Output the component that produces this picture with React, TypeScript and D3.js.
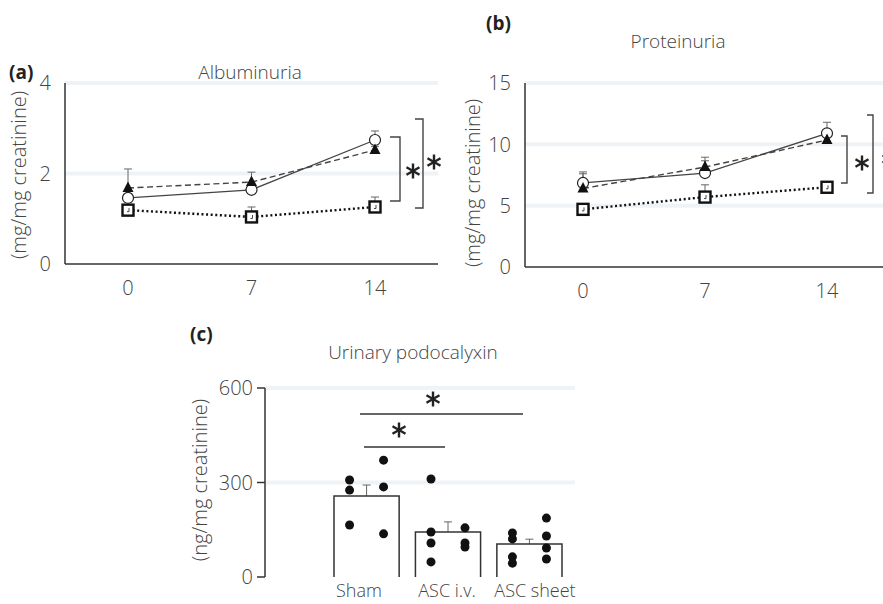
import React from "react";
import * as d3 from "d3";

// time points (days)
const days = [0, 7, 14];

// albuminuria (mg/mg creatinine)
const albCircle = [1.46, 1.64, 2.74];
const albCircleErr = [0.08, 0.08, 0.2];
const albTriangle = [1.68, 1.81, 2.52];
const albTriangleErr = [0.42, 0.22, 0.08];
const albSquare = [1.19, 1.04, 1.26];
const albSquareErr = [0.05, 0.22, 0.22];

// proteinuria (mg/mg creatinine)
const proCircle = [6.85, 7.66, 10.9];
const proCircleErr = [0.9, 1.0, 0.9];
const proTriangle = [6.4, 8.15, 10.35];
const proTriangleErr = [1.2, 0.8, 0.2];
const proSquare = [4.7, 5.7, 6.5];
const proSquareErr = [0.1, 1.0, 0.1];

// urinary podocalyxin (ng/mg creatinine)
const groups = ["Sham", "ASC i.v.", "ASC sheet"];
const podoMean = [257, 143, 105];
const podoErr = [35, 32, 15];
const podoDotsLeft = [
  [308, 276, 165],
  [311, 143, 108, 48],
  [140, 121, 64, 44],
];
const podoDotsRight = [
  [371, 286, 137],
  [156, 108, 95],
  [187, 130, 92, 57],
];

const FONT = "'Open Sans', 'Noto Sans', sans-serif";
const TXT = "#444";
const GRID = "#f0f3f6";

const Star = ({ x, y, r = 7.5 }) => {
  const arms = [90, 30, 150].map((a) => {
    const t = (a * Math.PI) / 180;
    return (
      <line
        key={a}
        x1={x - r * Math.cos(t)}
        y1={y - r * Math.sin(t)}
        x2={x + r * Math.cos(t)}
        y2={y + r * Math.sin(t)}
        stroke="#222"
        strokeWidth={2.4}
      />
    );
  });
  return <g>{arms}</g>;
};

const Bracket = ({ x, y1, y2, w }) => (
  <path
    d={`M${x - w},${y1}H${x}V${y2}H${x - w}`}
    fill="none"
    stroke="#444"
    strokeWidth={1.4}
  />
);

const LinePanel = (props) => {
  const { left, right, top, bottom, x0, x1, yMax, yTicks, series } = props;
  const x = d3.scaleLinear().domain([0, 14]).range([x0, x1]);
  const y = d3.scaleLinear().domain([0, yMax]).range([bottom, top]);
  const line = d3
    .line()
    .x((d, i) => x(days[i]))
    .y((d) => y(d));

  return (
    <g>
      {yTicks
        .filter((t) => t > 0)
        .map((t) => (
          <line
            key={"g" + t}
            x1={left}
            x2={right}
            y1={y(t)}
            y2={y(t)}
            stroke={GRID}
            strokeWidth={4}
          />
        ))}
      {yTicks.map((t) => (
        <text
          key={"t" + t}
          x={left - 14}
          y={y(t)}
          dy="0.36em"
          textAnchor="end"
          fontFamily={FONT}
          fontSize={20}
          fontWeight={300}
          fill={TXT}
        >
          {t}
        </text>
      ))}
      {days.map((d) => (
        <text
          key={"x" + d}
          x={x(d)}
          y={bottom + 31}
          textAnchor="middle"
          fontFamily={FONT}
          fontSize={20}
          fontWeight={300}
          fill={TXT}
        >
          {d}
        </text>
      ))}
      <line x1={left} x2={left} y1={top} y2={bottom} stroke="#333" strokeWidth={1.5} />
      <line x1={left} x2={right} y1={bottom} y2={bottom} stroke="#333" strokeWidth={1.5} />

      {series.map((s) =>
        s.values.map((v, i) => (
          <g key={s.key + "e" + i} stroke="#666" strokeWidth={1}>
            <line x1={x(days[i])} x2={x(days[i])} y1={y(v)} y2={y(v + s.err[i])} />
            <line
              x1={x(days[i]) - 4}
              x2={x(days[i]) + 4}
              y1={y(v + s.err[i])}
              y2={y(v + s.err[i])}
            />
          </g>
        ))
      )}
      {series.map((s) => (
        <path
          key={s.key + "l"}
          d={line(s.values)}
          fill="none"
          stroke={s.stroke}
          strokeWidth={s.width}
          strokeDasharray={s.dash}
        />
      ))}
      {series.map((s) =>
        s.values.map((v, i) => {
          const cx = x(days[i]);
          const cy = y(v);
          if (s.marker === "square")
            return (
              <g key={s.key + "m" + i}>
                <rect
                  x={cx - 5.5}
                  y={cy - 5.5}
                  width={11}
                  height={11}
                  fill="#fff"
                  stroke="#111"
                  strokeWidth={2.4}
                />
                <path d={`M${cx + 1},${cy - 2}V${cy + 1.5}H${cx - 1}`} stroke="#333" strokeWidth={0.9} fill="none" />
              </g>
            );
          if (s.marker === "circle")
            return (
              <circle key={s.key + "m" + i} cx={cx} cy={cy} r={5.5} fill="#fff" stroke="#222" strokeWidth={1.2} />
            );
          return (
            <path
              key={s.key + "m" + i}
              d={`M${cx},${cy - 6.5}L${cx + 5.5},${cy + 4}L${cx - 5.5},${cy + 4}Z`}
              fill="#111"
            />
          );
        })
      )}
    </g>
  );
};

const BarPanel = () => {
  const left = 265;
  const top = 388;
  const bottom = 577;
  const y = d3.scaleLinear().domain([0, 600]).range([bottom, top]);
  const x = d3.scaleBand().domain(groups).range([334, 562]).paddingInner(0.2).paddingOuter(0);
  // category labels sit slightly off the bar centres in the original
  const labelX = d3.scalePoint().domain(groups).range([359, 535]);
  const bw = x.bandwidth();
  const ticks = [0, 300, 600];
  const cx = (g) => x(g) + bw / 2;

  return (
    <g>
      {ticks
        .filter((t) => t > 0)
        .map((t) => (
          <line key={"g" + t} x1={left} x2={575} y1={y(t)} y2={y(t)} stroke={GRID} strokeWidth={4} />
        ))}
      {ticks.map((t) => (
        <g key={"t" + t}>
          <line x1={left - 8} x2={left} y1={y(t)} y2={y(t)} stroke="#333" strokeWidth={1.5} />
          <text
            x={left - 12}
            y={y(t)}
            dy="0.36em"
            textAnchor="end"
            fontFamily={FONT}
            fontSize={20}
            fontWeight={300}
            fill={TXT}
          >
            {t}
          </text>
        </g>
      ))}
      <line x1={left} x2={left} y1={top} y2={bottom} stroke="#333" strokeWidth={1.5} />

      {groups.map((g, i) => (
        <g key={g}>
          <line x1={cx(g)} x2={cx(g)} y1={y(podoMean[i])} y2={y(podoMean[i] + podoErr[i])} stroke="#666" strokeWidth={1} />
          <line
            x1={cx(g) - 4}
            x2={cx(g) + 4}
            y1={y(podoMean[i] + podoErr[i])}
            y2={y(podoMean[i] + podoErr[i])}
            stroke="#666"
            strokeWidth={1}
          />
          <path
            d={`M${x(g)},${bottom}V${y(podoMean[i])}H${x(g) + bw}V${bottom}`}
            fill="none"
            stroke="#333"
            strokeWidth={1.5}
          />
          {podoDotsLeft[i].map((v, j) => (
            <circle key={"l" + j} cx={cx(g) - 17} cy={y(v)} r={4.5} fill="#111" />
          ))}
          {podoDotsRight[i].map((v, j) => (
            <circle key={"r" + j} cx={cx(g) + 17} cy={y(v)} r={4.5} fill="#111" />
          ))}
          <text
            x={labelX(g)}
            y={597}
            textAnchor="middle"
            fontFamily={FONT}
            fontSize={18}
            fontWeight={300}
            fill={TXT}
          >
            {g}
          </text>
        </g>
      ))}

      <line x1={364} x2={445} y1={447} y2={447} stroke="#333" strokeWidth={1.5} />
      <Star x={399} y={430} />
      <line x1={360} x2={523} y1={414} y2={414} stroke="#333" strokeWidth={1.5} />
      <Star x={433} y={399} />
    </g>
  );
};

const Title = ({ x, y, children }) => (
  <text x={x} y={y} textAnchor="middle" fontFamily={FONT} fontSize={19} fontWeight={300} fill={TXT}>
    {children}
  </text>
);

const Tag = ({ x, y, children }) => (
  <text x={x} y={y} fontFamily={FONT} fontSize={19} fontWeight={700} fill="#222">
    {children}
  </text>
);

const YLabel = ({ x, y, children }) => (
  <text
    transform={`translate(${x},${y}) rotate(-90)`}
    textAnchor="middle"
    dy="0.35em"
    fontFamily={FONT}
    fontSize={20}
    fontWeight={300}
    fill={TXT}
  >
    {children}
  </text>
);

export default function App() {
  const albSeries = [
    { key: "sq", values: albSquare, err: albSquareErr, marker: "square", stroke: "#111", width: 2.4, dash: "2,2.6" },
    { key: "ci", values: albCircle, err: albCircleErr, marker: "circle", stroke: "#444", width: 1.3, dash: null },
    { key: "tr", values: albTriangle, err: albTriangleErr, marker: "triangle", stroke: "#444", width: 1.4, dash: "6,3.5" },
  ];
  const proSeries = [
    { key: "sq", values: proSquare, err: proSquareErr, marker: "square", stroke: "#111", width: 2.4, dash: "2,2.6" },
    { key: "ci", values: proCircle, err: proCircleErr, marker: "circle", stroke: "#444", width: 1.3, dash: null },
    { key: "tr", values: proTriangle, err: proTriangleErr, marker: "triangle", stroke: "#444", width: 1.4, dash: "6,3.5" },
  ];

  return (
    <svg width={883} height={604} style={{ position: "absolute", left: 0, top: 0, background: "#fff" }}>
      <rect width={883} height={604} fill="#fff" />

      <Tag x={9} y={79}>(a)</Tag>
      <Title x={250} y={79}>Albuminuria</Title>
      <YLabel x={19} y={175}>(mg/mg creatinine)</YLabel>
      <LinePanel
        left={65}
        right={438}
        top={83}
        bottom={264}
        x0={128}
        x1={375}
        yMax={4}
        yTicks={[0, 2, 4]}
        series={albSeries}
      />
      <Bracket x={400} y1={137} y2={201} w={10} />
      <Star x={413} y={171} />
      <Bracket x={423} y1={119} y2={208} w={8} />
      <Star x={434} y={162} />

      <Tag x={486} y={30}>(b)</Tag>
      <Title x={678} y={48}>Proteinuria</Title>
      <YLabel x={473} y={183}>(mg/mg creatinine)</YLabel>
      <LinePanel
        left={525}
        right={890}
        top={83}
        bottom={267}
        x0={583}
        x1={827}
        yMax={15}
        yTicks={[0, 5, 10, 15]}
        series={proSeries}
      />
      <Bracket x={847} y1={136} y2={183} w={6} />
      <Star x={862} y={163} />
      <Bracket x={873} y1={115} y2={193} w={6} />
      <Star x={889} y={159} />

      <Tag x={190} y={341}>(c)</Tag>
      <Title x={413} y={359}>Urinary podocalyxin</Title>
      <YLabel x={200} y={480}>(ng/mg creatinine)</YLabel>
      <BarPanel />
    </svg>
  );
}
